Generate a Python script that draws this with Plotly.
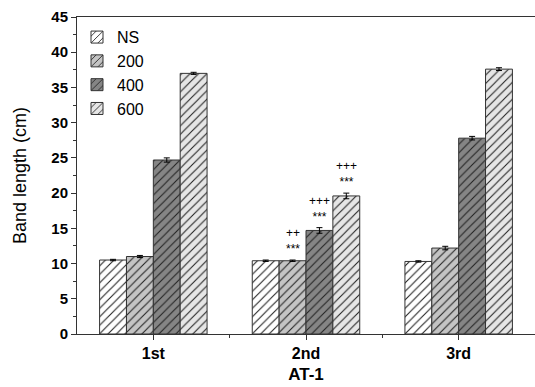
import plotly.graph_objects as go

# Band length (cm) per stage and treatment
stages = ["1st", "2nd", "3rd"]
series_names = ["NS", "200", "400", "600"]
ns_vals = [10.5, 10.4, 10.3]
s200_vals = [11.0, 10.4, 12.2]
s400_vals = [24.7, 14.7, 27.8]
s600_vals = [37.0, 19.6, 37.6]
ns_err = [0.1, 0.1, 0.1]
s200_err = [0.15, 0.1, 0.25]
s400_err = [0.3, 0.4, 0.25]
s600_err = [0.15, 0.4, 0.2]
# significance marks on the 2nd stage (series index -> label)
sig_marks = {1: "++<br>***", 2: "+++<br>***", 3: "+++<br>***"}
y_ticks = [0, 5, 10, 15, 20, 25, 30, 35, 40, 45]

values = [ns_vals, s200_vals, s400_vals, s600_vals]
errors = [ns_err, s200_err, s400_err, s600_err]
fills = ["#ffffff", "#c4c4c4", "#858585", "#e6e6e6"]

x_idx = list(range(len(stages)))
bargap = 0.296
bar_w = (1 - bargap) / len(series_names)
FONT = "Liberation Sans, Arial"

fig = go.Figure()
for name, vals, errs, fill in zip(series_names, values, errors, fills):
    fig.add_trace(go.Bar(
        x=x_idx, y=vals, name=name,
        error_y=dict(type="data", array=errs, color="black", thickness=1, width=3),
        marker=dict(
            color=fill,
            line=dict(color="#333333", width=1),
            pattern=dict(shape="/", fgcolor="#222222", bgcolor=fill, size=6,
                         solidity=0.18, fillmode="replace"),
        ),
    ))

annotations = []
stage_i = 1
for s_i, txt in sig_marks.items():
    xc = stage_i + (s_i - 1.5) * bar_w
    top = values[s_i][stage_i] + errors[s_i][stage_i]
    annotations.append(dict(
        x=xc, y=top, xref="x", yref="y", text=txt, showarrow=False,
        font=dict(family=FONT, size=12, color="#000000"),
        yanchor="bottom", yshift=2,
    ))

fig.update_layout(
    width=535, height=387,
    margin=dict(l=77, r=0, t=17, b=53),
    paper_bgcolor="white", plot_bgcolor="white",
    barmode="group", bargap=bargap, bargroupgap=0,
    font=dict(family=FONT, color="black"),
    showlegend=True,
    legend=dict(x=0.0, y=0.99, xanchor="left", yanchor="top",
                bgcolor="rgba(0,0,0,0)", font=dict(size=16),
                tracegroupgap=0, itemwidth=30),
    annotations=annotations,
    xaxis=dict(
        range=[-0.5, 2.5], tickmode="array", tickvals=x_idx,
        ticktext=["<b>%s</b>" % s for s in stages],
        showline=True, linecolor="#333333", linewidth=1, mirror=True,
        ticks="outside", ticklen=5, tickcolor="#333333",
        minor=dict(tickmode="array", tickvals=[0.5, 1.5], ticks="outside",
                   ticklen=3, tickcolor="#333333"),
        tickfont=dict(size=16, family=FONT),
        title=dict(text="<b>AT-1</b>", font=dict(size=17), standoff=6),
        showgrid=False, zeroline=False,
    ),
    yaxis=dict(
        range=[0, 45], tickmode="array", tickvals=y_ticks,
        ticktext=["<b>%d</b>" % v for v in y_ticks],
        showline=True, linecolor="#333333", linewidth=1, mirror=False,
        ticks="outside", ticklen=5, tickcolor="#333333",
        minor=dict(tickmode="array", tickvals=[v + 2.5 for v in y_ticks[:-1]],
                   ticks="outside", ticklen=3, tickcolor="#333333"),
        tickfont=dict(size=15, family=FONT),
        title=dict(text="Band length (cm)", font=dict(size=18), standoff=20),
        showgrid=False, zeroline=False,
    ),
)

fig.write_html("out.html")
